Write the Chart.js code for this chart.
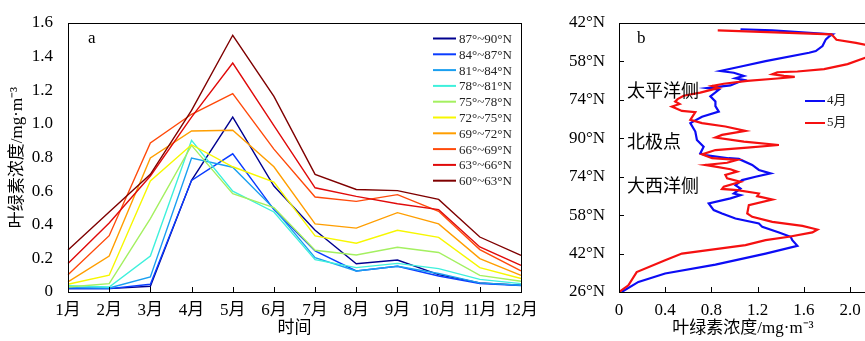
<!DOCTYPE html>
<html>
<head>
<meta charset="utf-8">
<script src="https://cdn.jsdelivr.net/npm/chart.js@4.4.1/dist/chart.umd.min.js"></script>
<style>
  html, body { margin: 0; padding: 0; background: #fff; overflow: hidden; }
  #wrapA { position: absolute; left: 0; top: 0; width: 540px; height: 341px; }
  #wrapB { position: absolute; left: 545px; top: 0; width: 322px; height: 341px; }
</style>
</head>
<body>
<div id="wrapA"><canvas id="chartA" width="540" height="341"></canvas></div>
<div id="wrapB"><canvas id="chartB" width="322" height="341"></canvas></div>
<script>
// panel a - monthly chlorophyll by latitude band
const months = ["1月", "2月", "3月", "4月", "5月", "6月", "7月", "8月", "9月", "10月", "11月", "12月"];
const bandNames = ["87°~90°N", "84°~87°N", "81°~84°N", "78°~81°N", "75°~78°N",
                   "72°~75°N", "69°~72°N", "66°~69°N", "63°~66°N", "60°~63°N"];
const lat87_90 = [0.02, 0.02, 0.034, 0.664, 1.04, 0.63, 0.367, 0.168, 0.19, 0.103, 0.054, 0.04];
const lat84_87 = [0.02, 0.02, 0.046, 0.664, 0.822, 0.49, 0.244, 0.125, 0.153, 0.095, 0.05, 0.038];
const lat81_84 = [0.026, 0.024, 0.09, 0.797, 0.742, 0.496, 0.204, 0.125, 0.153, 0.11, 0.054, 0.04];
const lat78_81 = [0.038, 0.03, 0.214, 0.902, 0.60, 0.476, 0.192, 0.145, 0.17, 0.139, 0.075, 0.05];
const lat75_78 = [0.03, 0.05, 0.436, 0.872, 0.585, 0.502, 0.248, 0.22, 0.266, 0.235, 0.099, 0.064];
const lat72_75 = [0.046, 0.10, 0.66, 0.876, 0.745, 0.654, 0.334, 0.29, 0.367, 0.325, 0.145, 0.08];
const lat69_72 = [0.06, 0.214, 0.797, 0.958, 0.962, 0.745, 0.405, 0.38, 0.472, 0.405, 0.199, 0.099];
const lat66_69 = [0.103, 0.335, 0.886, 1.057, 1.18, 0.85, 0.565, 0.539, 0.579, 0.48, 0.252, 0.125];
const lat63_66 = [0.17, 0.41, 0.69, 1.04, 1.362, 0.99, 0.62, 0.569, 0.525, 0.49, 0.268, 0.159];
const lat60_63 = [0.25, 0.476, 0.70, 1.08, 1.527, 1.164, 0.70, 0.61, 0.603, 0.551, 0.327, 0.218];
const bandValues = [lat87_90, lat84_87, lat81_84, lat78_81, lat75_78, lat72_75, lat69_72, lat66_69, lat63_66, lat60_63];
const bandColors = ["#00008f", "#0a3cff", "#1a9ff0", "#3ef0dc", "#a4f060",
                    "#f7f700", "#ff9e00", "#ff4a0a", "#e00a0a", "#7f0000"];

// panel b - transect, April vs May
const latTickPos = [0, 16, 32, 48, 64, 80, 96, 112];
const latTickLabels = ["26°N", "42°N", "58°N", "74°N", "90°N", "74°N", "58°N", "42°N"];
const concTicks = [0, 0.4, 0.8, 1.2, 1.6, 2.0];
const aprilConc = [1.051, 1.326, 1.847, 1.818, 1.789, 1.760, 1.702, 1.644, 1.268, 1.065, 0.877, 0.993, 1.080, 1.007,
  1.080, 0.964, 0.761, 0.863, 0.790, 0.834, 0.834, 0.863, 0.718, 0.617, 0.660, 0.674, 0.732, 0.703, 0.747, 0.949,
  1.036, 1.152, 1.210, 1.311, 1.181, 1.065, 1.007, 1.051, 0.993, 1.051, 0.964, 0.776, 0.819, 0.891, 1.007, 1.210,
  1.239, 1.384, 1.485, 1.499, 1.543, 1.268, 0.834, 0.399, 0.168, 0.023];
const aprilPos = [109.4, 108.9, 107.3, 106.4, 105.2, 102.4, 100.3, 99.6, 96.1, 94.0, 92.0, 91.3, 90.0, 89.0,
  88.3, 86.0, 84.9, 84.2, 81.5, 79.3, 77.4, 75.1, 73.0, 70.3, 66.8, 63.3, 60.5, 57.7, 57.0, 55.7,
  55.4, 52.9, 50.8, 49.4, 48.0, 46.6, 44.5, 43.1, 41.0, 40.3, 39.0, 36.9, 34.1, 32.7, 30.6, 28.5,
  27.1, 24.8, 23.0, 21.6, 19.2, 16.0, 11.4, 7.7, 4.2, 0];
const mayConc = [0.854, 1.838, 1.881, 2.049, 2.237, 2.165, 1.977, 1.774, 1.543, 1.369, 1.326, 1.427, 1.520, 1.369,
  1.109, 0.906, 0.805, 0.863, 0.703, 0.559, 0.507, 0.486, 0.524, 0.457, 0.544, 0.660, 0.617, 0.718, 0.920, 1.094,
  0.891, 0.834, 1.080, 1.383, 1.109, 0.834, 0.718, 0.805, 1.022, 0.935, 0.747, 0.834, 0.964, 1.022, 0.920, 0.935,
  1.051, 0.906, 0.891, 1.022, 1.210, 1.195, 1.326, 1.123, 1.109, 1.152, 1.326, 1.586, 1.716, 1.673, 1.470, 1.268,
  1.094, 0.544, 0.399, 0.153, 0.081, 0];
const mayPos = [108.9, 107.3, 105.0, 103.7, 102.0, 98.1, 94.9, 92.8, 91.8, 91.5, 90.7, 90.0, 89.6, 88.9,
  87.9, 86.7, 85.8, 85.0, 83.0, 81.7, 80.3, 79.3, 78.3, 77.2, 75.4, 74.9, 71.7, 70.3, 68.9, 67.1,
  65.4, 64.3, 62.6, 61.2, 60.1, 59.1, 57.3, 55.7, 55.0, 53.8, 52.9, 52.2, 51.1, 50.1, 48.7, 47.3,
  45.9, 43.8, 42.9, 42.4, 41.0, 39.9, 38.5, 36.2, 32.7, 31.3, 29.2, 27.5, 26.0, 24.8, 23.0, 21.6,
  19.5, 16.0, 13.2, 8.3, 2.8, 0];
const regionNames = ["太平洋侧", "北极点", "大西洋侧"];
const regionPos = [84.2, 62.9, 44.5];

const serif = "'Liberation Serif', 'Times New Roman', 'Noto Sans CJK SC', serif";
const fmt = v => (v === 0 ? "0" : v.toFixed(1));

// box around the plot + inward tick marks
function framePlugin(withYTicks) {
  return {
    id: "frame",
    afterDatasetsDraw(chart) {
      const ctx = chart.ctx;
      const a = chart.chartArea;
      ctx.save();
      ctx.strokeStyle = "#000";
      ctx.lineWidth = 1;
      ctx.strokeRect(Math.round(a.left) + 0.5, Math.round(a.top) + 0.5,
                     Math.round(a.width), Math.round(a.height));
      ctx.beginPath();
      const xs = chart.scales.x;
      xs.ticks.forEach((t, i) => {
        const px = Math.round(xs.getPixelForTick(i)) + 0.5;
        ctx.moveTo(px, a.bottom);
        ctx.lineTo(px, a.bottom - 5);
      });
      if (withYTicks) {
        const ys = chart.scales.y;
        ys.ticks.forEach((t, i) => {
          const py = Math.round(ys.getPixelForTick(i)) + 0.5;
          ctx.moveTo(a.left, py);
          ctx.lineTo(a.left + 5, py);
        });
      }
      ctx.stroke();
      ctx.restore();
    }
  };
}

const legendA = {
  id: "legendA",
  afterDraw(chart) {
    const ctx = chart.ctx, a = chart.chartArea;
    ctx.save();
    ctx.font = "13px " + serif;
    ctx.textBaseline = "middle";
    chart.data.datasets.forEach((ds, i) => {
      const y = a.top + 15.5 + i * 15.8;
      ctx.strokeStyle = ds.borderColor;
      ctx.lineWidth = 2;
      ctx.beginPath();
      ctx.moveTo(a.right - 88, y);
      ctx.lineTo(a.right - 65, y);
      ctx.stroke();
      ctx.fillStyle = "#222";
      ctx.fillText(ds.label, a.right - 62, y + 1);
    });
    ctx.font = "17px " + serif;
    ctx.fillStyle = "#000";
    ctx.fillText("a", a.left + 20, a.top + 16);
    ctx.restore();
  }
};

const notesB = {
  id: "notesB",
  afterDraw(chart) {
    const ctx = chart.ctx, a = chart.chartArea;
    const xs = chart.scales.x, ys = chart.scales.y;
    ctx.save();
    ctx.textBaseline = "middle";
    ctx.fillStyle = "#000";
    ctx.font = "18px 'Noto Sans CJK SC', sans-serif";
    regionNames.forEach((name, i) => {
      ctx.fillText(name, xs.getPixelForValue(0.07), ys.getPixelForValue(regionPos[i]));
    });
    ctx.font = "17px " + serif;
    ctx.fillText("b", a.left + 18, a.top + 16);
    // legend
    ctx.font = "13px " + serif;
    chart.data.datasets.forEach((ds, i) => {
      const y = a.top + 78 + i * 22;
      ctx.strokeStyle = ds.borderColor;
      ctx.lineWidth = 2;
      ctx.beginPath();
      ctx.moveTo(a.right - 62, y);
      ctx.lineTo(a.right - 42, y);
      ctx.stroke();
      ctx.fillStyle = "#222";
      ctx.fillText(ds.label, a.right - 40, y);
    });
    ctx.restore();
  }
};

const chartA = new Chart(document.getElementById("chartA"), {
  type: "line",
  data: {
    labels: months,
    datasets: bandValues.map((vals, i) => ({
      label: bandNames[i],
      data: vals,
      borderColor: bandColors[i],
      borderWidth: 1.4,
      pointRadius: 0,
      tension: 0,
      fill: false,
      order: 10 - i
    }))
  },
  options: {
    responsive: false,
    animation: false,
    layout: { padding: { top: 23, right: 19, left: 0, bottom: 0 } },
    plugins: { legend: { display: false }, tooltip: { enabled: false } },
    scales: {
      x: {
        type: "category",
        offset: false,
        grid: { display: false },
        border: { display: false },
        ticks: { color: "#000", font: { size: 17, family: serif }, padding: 0, maxRotation: 0, autoSkip: false },
        title: { display: true, text: "时间", color: "#000", font: { size: 17, family: serif }, padding: { top: 2, bottom: 2 } },
        afterFit: s => { s.height = 49; }
      },
      y: {
        min: 0,
        max: 1.6,
        grid: { display: false },
        border: { display: false },
        ticks: { stepSize: 0.2, color: "#000", font: { size: 17, family: serif }, padding: 7, callback: fmt },
        title: { display: true, text: "叶绿素浓度/mg·m⁻³", color: "#000", font: { size: 17, family: serif }, padding: { top: 7, bottom: 0 } },
        afterFit: s => { s.width = 68; }
      }
    }
  },
  plugins: [framePlugin(false), legendA]
});

const chartB = new Chart(document.getElementById("chartB"), {
  type: "scatter",
  data: {
    datasets: [
      { label: "4月", data: aprilConc.map((v, i) => ({ x: v, y: aprilPos[i] })), borderColor: "#0c0cf5", order: 1 },
      { label: "5月", data: mayConc.map((v, i) => ({ x: v, y: mayPos[i] })), borderColor: "#f51010", order: 0 }
    ].map(ds => Object.assign(ds, { showLine: true, borderWidth: 2.2, pointRadius: 0, tension: 0 }))
  },
  options: {
    responsive: false,
    animation: false,
    layout: { padding: { top: 23, right: 0, left: 0, bottom: 0 } },
    plugins: { legend: { display: false }, tooltip: { enabled: false } },
    scales: {
      x: {
        type: "linear",
        min: 0,
        max: 2.145,
        grid: { display: false },
        border: { display: false },
        afterBuildTicks: s => { s.ticks = concTicks.map(v => ({ value: v })); },
        ticks: { color: "#000", font: { size: 17, family: serif }, padding: 0, maxRotation: 0, callback: fmt },
        title: { display: true, text: "叶绿素浓度/mg·m⁻³", color: "#000", font: { size: 17, family: serif }, padding: { top: 2, bottom: 2 } },
        afterFit: s => { s.height = 49; }
      },
      y: {
        type: "linear",
        min: 0,
        max: 112,
        grid: { display: false },
        border: { display: false },
        afterBuildTicks: s => { s.ticks = latTickPos.map(v => ({ value: v })); },
        ticks: { color: "#000", font: { size: 17, family: serif }, padding: 6,
                 callback: v => latTickLabels[latTickPos.indexOf(v)] },
        afterFit: s => { s.width = 74; }
      }
    }
  },
  plugins: [framePlugin(true), notesB]
});
</script>
</body>
</html>
